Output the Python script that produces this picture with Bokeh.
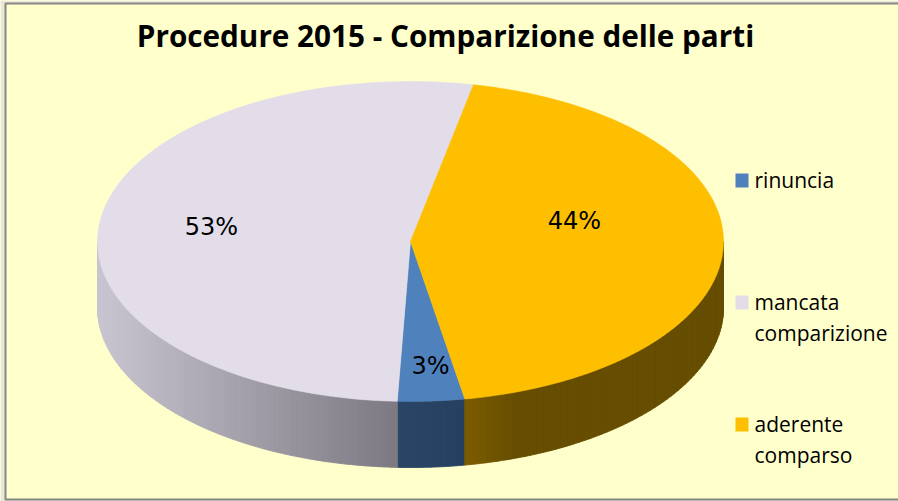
from math import radians, sin, cos
from bokeh.plotting import figure
from bokeh.models import Range1d
from bokeh.core.properties import value
from bokeh.embed import file_html
from bokeh.resources import INLINE

TITLE = "Procedure 2015 - Comparizione delle parti"
categories = ["rinuncia", "mancata\ncomparizione", "aderente\ncomparso"]
shares = [3.45, 52.55, 44.0]
slice_colors = ["#4f81bd", "#e2dde9", "#fdbf00"]
wall_left = [(0x2a, 0x46, 0x66), (0xc9, 0xc5, 0xd1), (0x7c, 0x5c, 0x00)]
wall_right = [(0x25, 0x40, 0x60), (0x7c, 0x79, 0x82), (0x66, 0x4d, 0x00)]

CX, CY, RX, RY, DEPTH = 410, 241, 313, 160, 66
FIRST_ANGLE = 170.0
FONT = "Open Sans"

p = figure(width=898, height=501, x_range=Range1d(0, 898), y_range=Range1d(501, 0),
           toolbar_location=None, output_backend="svg", min_border=0,
           background_fill_color="#ffffcc", border_fill_color="#ffffcc", outline_line_color=None)
p.axis.visible = False
p.grid.visible = False

# pale strip outside the frame
p.quad(left=[0, 0, 0], right=[5, 898, 898], top=[0, 0, 499], bottom=[501, 3, 501],
       fill_color="#e9e9d3", line_color=None)


def pt(t, drop=0):
    a = radians(t)
    return CX + RX * sin(a), CY - RY * cos(a) + drop


def arc(t0, t1, drop=0, n=120):
    pts = [pt(t0 + (t1 - t0) * i / n, drop) for i in range(n + 1)]
    return [q[0] for q in pts], [q[1] for q in pts]


# slice angle ranges from the shares
ranges = []
start = FIRST_ANGLE
for s in shares:
    ranges.append((start, start + s * 3.6))
    start += s * 3.6

# side wall, as vertical colour strips
wx, wy, wc = [], [], []
for (t0, t1), cl, cr in zip(ranges, wall_left, wall_right):
    if t0 < 270 and t1 > 90 and t1 <= 360:
        lo, hi = max(t0, 90), min(t1, 270)
    elif t0 < 270:
        lo, hi = t0, 270
    else:
        lo, hi = 90, t1 - 360
    x_a, x_b = pt(lo)[0], pt(hi)[0]
    xmin, xmax = min(x_a, x_b), max(x_a, x_b)
    warm = cl == wall_left[2]
    steps = max(4, int((xmax - xmin) / 4))
    for i in range(steps):
        a = lo + (hi - lo) * i / steps
        b = lo + (hi - lo) * (i + 1) / steps
        tx, ty = arc(a, b, 0, 6)
        bx, by = arc(b, a, DEPTH, 6)
        wx.append(tx + bx)
        wy.append(ty + by)
        xm = (tx[0] + tx[-1]) / 2
        f = (xm - xmin) / (xmax - xmin)
        if warm:
            f = min(1, (xm - xmin) / 50)
        col = tuple(int(round(u + (v - u) * f)) for u, v in zip(cl, cr))
        wc.append("#%02x%02x%02x" % col)
p.patches(wx, wy, fill_color=wc, line_color=wc, line_width=1)

# top face
fx, fy = [], []
for t0, t1 in ranges:
    ax, ay = arc(t0, t1)
    fx.append([CX] + ax)
    fy.append([CY] + ay)
p.patches(fx, fy, fill_color=slice_colors, line_color=slice_colors, line_width=0.5)

# data labels
label_x = [430, 211, 574]
label_y = [365, 226, 220]
labels = ["%d%%" % round(s) for s in shares]
p.text(label_x, label_y, text=labels, text_font=value("DejaVu Sans"), text_font_size="24px",
       text_align="center", text_baseline="middle", text_color="#000000")

# title
p.text([445], [35], text=[TITLE], text_font=value(FONT), text_font_style="bold",
       text_font_size="29.7px", text_align="center", text_baseline="middle", text_color="#000000")

# legend
swatch_y = [180, 302, 424]
p.rect([741.5] * 3, swatch_y, width=13, height=14, fill_color=slice_colors, line_color=None)
lx, ly, lt = [], [], []
for name, y in zip(categories, swatch_y):
    for k, line in enumerate(name.split("\n")):
        lx.append(754)
        ly.append(y - 1 + k * 31)
        lt.append(line)
p.text(lx, ly, text=lt, text_font=value(FONT), text_font_size="21px",
       text_align="left", text_baseline="middle", text_color="#000000")

# frame
p.multi_line([[898, 5, 5, 898]], [[3, 3, 499, 499]], line_color="#868686", line_width=2)

open("out.html", "w").write(file_html(p, INLINE))
